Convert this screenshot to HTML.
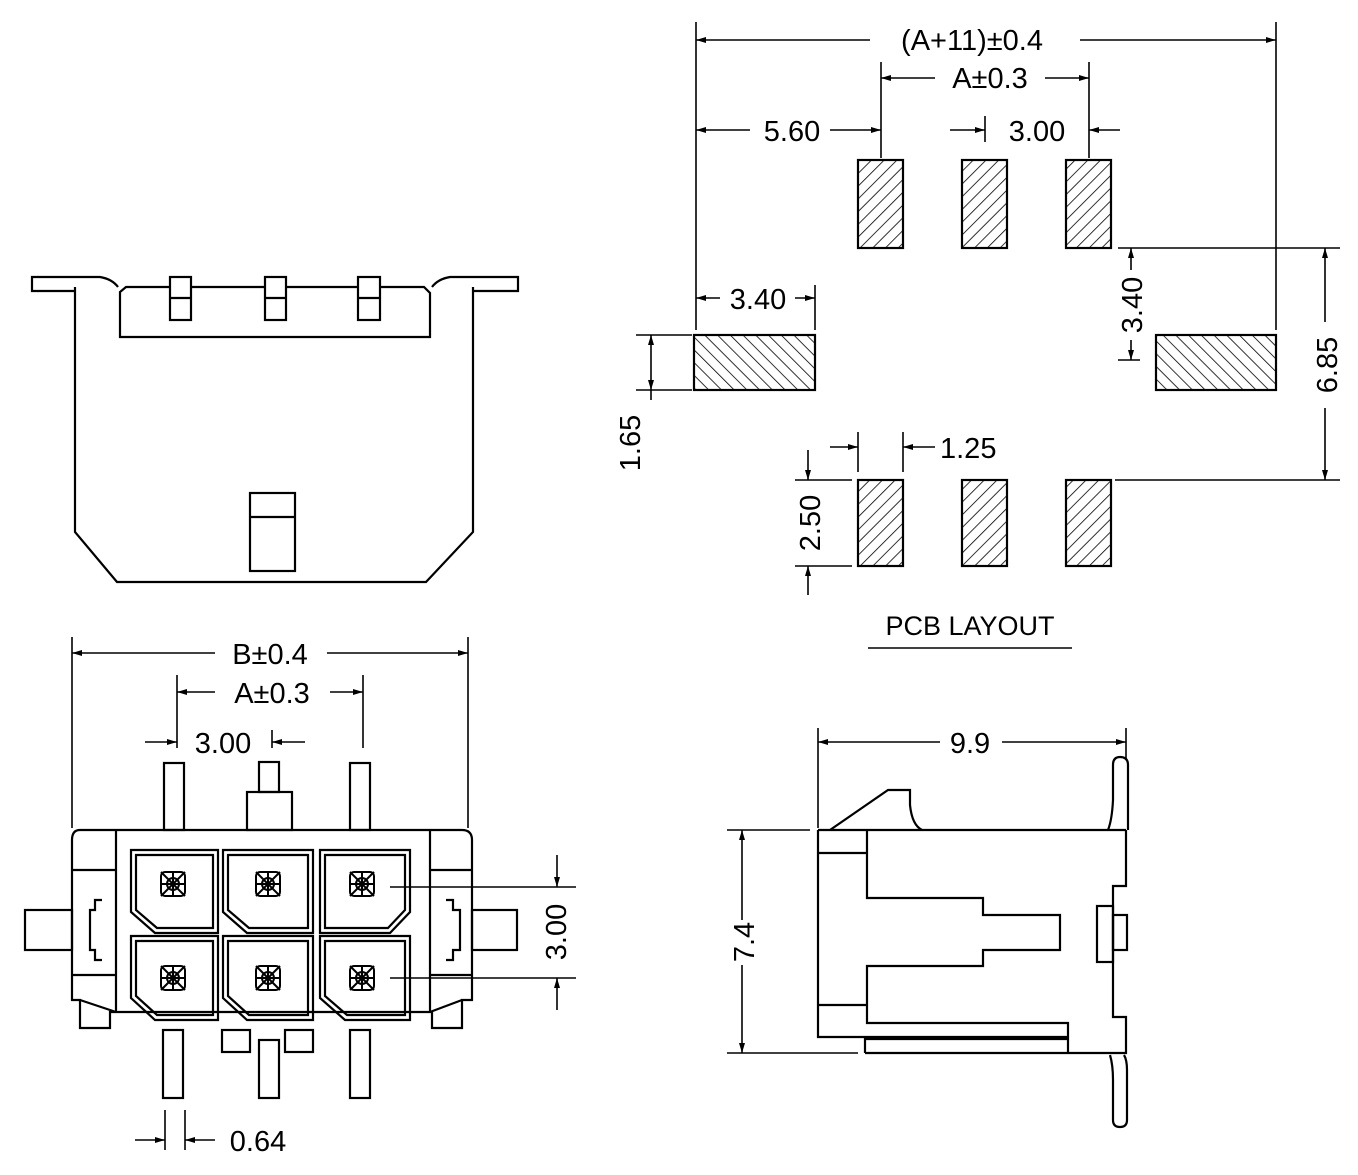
<!DOCTYPE html>
<html><head><meta charset="utf-8"><style>
html,body{margin:0;padding:0;background:#fff;}
svg{display:block;}
text{font-family:"Liberation Sans",sans-serif;fill:#000;}
</style></head><body>
<svg width="1358" height="1175" viewBox="0 0 1358 1175" xmlns="http://www.w3.org/2000/svg">
<defs>
<pattern id="h1" width="9" height="9" patternUnits="userSpaceOnUse" patternTransform="rotate(45)">
<line x1="0" y1="0" x2="0" y2="9" stroke="#000" stroke-width="1.6"/></pattern>
<pattern id="h2" width="9" height="9" patternUnits="userSpaceOnUse" patternTransform="rotate(-45)">
<line x1="0" y1="0" x2="0" y2="9" stroke="#000" stroke-width="1.6"/></pattern>
<marker id="ar" viewBox="0 0 10 6" refX="10" refY="3" markerWidth="10" markerHeight="6" orient="auto-start-reverse" markerUnits="userSpaceOnUse">
<path d="M0,0 L10,3 L0,6 z" fill="#000"/></marker>
<g id="star"><g stroke="#000" stroke-width="2" fill="none">
<rect x="-12" y="-12" width="24" height="24" rx="4"/>
<line x1="-12" y1="-12" x2="12" y2="12"/><line x1="12" y1="-12" x2="-12" y2="12"/>
<line x1="0" y1="-12" x2="0" y2="12"/><line x1="-12" y1="0" x2="12" y2="0"/>
<circle r="6"/></g></g>
</defs>
<g fill="none" stroke="#000" stroke-width="2.2">
<!-- top-left view -->
<path d="M75,291 L32,291 L32,277 L100,277 Q112,279 118,287"/>
<path d="M473,291 L518,291 L518,277 L450,277 Q438,279 432,287"/>
<path d="M75,287 L75,532 L117,582 L426,582 L473,532 L473,287"/>
<path d="M120,337 L120,292 L126,287 L424,287 L430,293 L430,337 Z"/>
<g fill="#fff">
<rect x="170" y="277" width="21" height="43"/>
<rect x="265" y="277" width="21" height="43"/>
<rect x="358" y="277" width="22" height="43"/>
</g>
<line x1="170" y1="298" x2="191" y2="298"/>
<line x1="265" y1="298" x2="286" y2="298"/>
<line x1="358" y1="298" x2="380" y2="298"/>
<rect x="250" y="493" width="45" height="78"/><line x1="250" y1="517" x2="295" y2="517"/>
</g>
<!-- PCB layout pads -->
<g stroke="#000" stroke-width="2.2">
<rect x="858" y="160" width="45" height="88" fill="url(#h1)"/>
<rect x="962" y="160" width="45" height="88" fill="url(#h1)"/>
<rect x="1066" y="160" width="45" height="88" fill="url(#h1)"/>
<rect x="858" y="480" width="45" height="86" fill="url(#h1)"/>
<rect x="962" y="480" width="45" height="86" fill="url(#h1)"/>
<rect x="1066" y="480" width="45" height="86" fill="url(#h1)"/>
<rect x="694" y="335" width="121" height="55" fill="url(#h2)"/>
<rect x="1156" y="335" width="120" height="55" fill="url(#h2)"/>
</g>
<g stroke="#000" stroke-width="1.6" fill="none">
<line x1="696" y1="22" x2="696" y2="330"/><line x1="1276" y1="22" x2="1276" y2="330"/>
<line x1="881" y1="62" x2="881" y2="158"/><line x1="1089" y1="62" x2="1089" y2="158"/>
<line x1="985" y1="116" x2="985" y2="142"/>
<line x1="815" y1="285" x2="815" y2="330"/>
<line x1="636" y1="335" x2="692" y2="335"/><line x1="636" y1="390" x2="692" y2="390"/>
<line x1="1118" y1="248" x2="1340" y2="248"/><line x1="1115" y1="480" x2="1340" y2="480"/>
<line x1="1118" y1="360" x2="1140" y2="360"/>
<line x1="858" y1="432" x2="858" y2="472"/><line x1="903" y1="432" x2="903" y2="472"/>
<line x1="795" y1="480" x2="852" y2="480"/><line x1="795" y1="566" x2="852" y2="566"/>
<line x1="868" y1="648" x2="1072" y2="648"/>
<line x1="696" y1="40" x2="870" y2="40" marker-start="url(#ar)"/>
<line x1="1080" y1="40" x2="1276" y2="40" marker-end="url(#ar)"/>
<line x1="881" y1="78" x2="935" y2="78" marker-start="url(#ar)"/>
<line x1="1045" y1="78" x2="1089" y2="78" marker-end="url(#ar)"/>
<line x1="696" y1="130" x2="750" y2="130" marker-start="url(#ar)"/>
<line x1="830" y1="130" x2="881" y2="130" marker-end="url(#ar)"/>
<line x1="950" y1="130" x2="985" y2="130" marker-end="url(#ar)"/>
<line x1="1120" y1="130" x2="1089" y2="130" marker-end="url(#ar)"/>
<line x1="696" y1="298" x2="720" y2="298" marker-start="url(#ar)"/>
<line x1="795" y1="298" x2="815" y2="298" marker-end="url(#ar)"/>
<line x1="651" y1="335" x2="651" y2="390" marker-start="url(#ar)" marker-end="url(#ar)"/>
<line x1="651" y1="390" x2="651" y2="400"/>
<line x1="1131" y1="248" x2="1131" y2="270" marker-start="url(#ar)"/>
<line x1="1131" y1="340" x2="1131" y2="360" marker-end="url(#ar)"/>
<line x1="1325" y1="248" x2="1325" y2="322" marker-start="url(#ar)"/>
<line x1="1325" y1="408" x2="1325" y2="480" marker-end="url(#ar)"/>
<line x1="830" y1="447" x2="858" y2="447" marker-end="url(#ar)"/>
<line x1="935" y1="447" x2="903" y2="447" marker-end="url(#ar)"/>
<line x1="808" y1="450" x2="808" y2="480" marker-end="url(#ar)"/>
<line x1="808" y1="595" x2="808" y2="566" marker-end="url(#ar)"/>
</g>
<g font-size="29">
<text x="972" y="50" text-anchor="middle">(A+11)±0.4</text>
<text x="990" y="88" text-anchor="middle">A±0.3</text>
<text x="792" y="141" text-anchor="middle">5.60</text>
<text x="1037" y="141" text-anchor="middle">3.00</text>
<text x="758" y="309" text-anchor="middle">3.40</text>
<text x="940" y="458" text-anchor="start">1.25</text>
<text transform="translate(640,443) rotate(-90)" text-anchor="middle">1.65</text>
<text transform="translate(1142,305) rotate(-90)" text-anchor="middle">3.40</text>
<text transform="translate(1337,365) rotate(-90)" text-anchor="middle">6.85</text>
<text transform="translate(820,523) rotate(-90)" text-anchor="middle">2.50</text>
<text x="970" y="635" text-anchor="middle" font-size="27">PCB LAYOUT</text>
</g>
<!-- bottom-left front view -->
<g fill="none" stroke="#000" stroke-width="2.2">
<rect x="164" y="763" width="20" height="67"/>
<rect x="350" y="763" width="20" height="67"/>
<rect x="259" y="762" width="20" height="30"/>
<rect x="247" y="792" width="45" height="38"/>
<path d="M80,830 L462,830 Q472,830 472,840 L472,1000 L462,1000 L462,1028 L432,1028 L432,1012 L110,1012 L110,1028 L80,1028 L80,1000 L72,1000 L72,840 Q72,830 80,830 Z"/>
<line x1="116" y1="830" x2="116" y2="1012"/><line x1="430" y1="830" x2="430" y2="1012"/>
<line x1="72" y1="870" x2="116" y2="870"/><line x1="72" y1="975" x2="116" y2="975"/>
<line x1="430" y1="870" x2="472" y2="870"/><line x1="430" y1="975" x2="472" y2="975"/>
<line x1="80" y1="1000" x2="116" y2="1012"/><line x1="462" y1="1000" x2="430" y2="1012"/>
<path d="M102,900 L95,900 L95,910 L90,910 L90,950 L95,950 L95,960 L102,960"/>
<path d="M446,900 L453,900 L453,910 L460,910 L460,950 L453,950 L453,960 L446,960"/>
<rect x="25" y="910" width="47" height="40"/>
<rect x="472" y="910" width="45" height="40"/>
<path d="M131,850 L218,850 L218,933 L155,933 L131,912 Z"/>
<path d="M136,855 L213,855 L213,928 L157,928 L136,910 Z"/>
<path d="M223,850 L313,850 L313,933 L247,933 L223,912 Z"/>
<path d="M228,855 L308,855 L308,928 L249,928 L228,910 Z"/>
<path d="M320,850 L410,850 L410,912 L390,933 L320,933 Z"/>
<path d="M325,855 L405,855 L405,910 L388,928 L325,928 Z"/>
<path d="M131,936 L218,936 L218,1020 L155,1020 L131,998 Z"/>
<path d="M136,941 L213,941 L213,1015 L157,1015 L136,996 Z"/>
<path d="M223,936 L313,936 L313,1020 L247,1020 L223,998 Z"/>
<path d="M228,941 L308,941 L308,1015 L249,1015 L228,996 Z"/>
<path d="M320,936 L410,936 L410,1020 L345,1020 L320,998 Z"/>
<path d="M325,941 L405,941 L405,1015 L347,1015 L325,996 Z"/>
<rect x="222" y="1030" width="28" height="22"/>
<rect x="285" y="1030" width="28" height="22"/>
<rect x="163" y="1030" width="20" height="68"/>
<rect x="259" y="1040" width="20" height="58"/>
<rect x="350" y="1030" width="20" height="68"/>
</g>
<use href="#star" x="173" y="884"/><use href="#star" x="268" y="884"/><use href="#star" x="362" y="884"/>
<use href="#star" x="173" y="978"/><use href="#star" x="268" y="978"/><use href="#star" x="362" y="978"/>
<g stroke="#000" stroke-width="1.6" fill="none">
<line x1="72" y1="637" x2="72" y2="828"/><line x1="468" y1="637" x2="468" y2="828"/>
<line x1="177" y1="675" x2="177" y2="748"/><line x1="363" y1="675" x2="363" y2="748"/>
<line x1="272" y1="730" x2="272" y2="748"/>
<line x1="72" y1="653" x2="215" y2="653" marker-start="url(#ar)"/>
<line x1="327" y1="653" x2="468" y2="653" marker-end="url(#ar)"/>
<line x1="177" y1="692" x2="215" y2="692" marker-start="url(#ar)"/>
<line x1="330" y1="692" x2="363" y2="692" marker-end="url(#ar)"/>
<line x1="145" y1="742" x2="177" y2="742" marker-end="url(#ar)"/>
<line x1="305" y1="742" x2="272" y2="742" marker-end="url(#ar)"/>
<line x1="390" y1="887" x2="576" y2="887"/><line x1="390" y1="978" x2="576" y2="978"/>
<line x1="557" y1="855" x2="557" y2="887" marker-end="url(#ar)"/>
<line x1="557" y1="1010" x2="557" y2="978" marker-end="url(#ar)"/>
<line x1="165" y1="1110" x2="165" y2="1150"/><line x1="185" y1="1110" x2="185" y2="1150"/>
<line x1="135" y1="1140" x2="165" y2="1140" marker-end="url(#ar)"/>
<line x1="215" y1="1140" x2="185" y2="1140" marker-end="url(#ar)"/>
</g>
<g font-size="29">
<text x="270" y="664" text-anchor="middle">B±0.4</text>
<text x="272" y="703" text-anchor="middle">A±0.3</text>
<text x="223" y="753" text-anchor="middle">3.00</text>
<text x="258" y="1151" text-anchor="middle">0.64</text>
<text transform="translate(566,932) rotate(-90)" text-anchor="middle">3.00</text>
<text x="970" y="753" text-anchor="middle">9.9</text>
<text transform="translate(754,942) rotate(-90)" text-anchor="middle">7.4</text>
</g>
<!-- side view -->
<g fill="none" stroke="#000" stroke-width="2.2">
<path d="M818,830 L818,1037 L1068,1037"/>
<line x1="818" y1="830" x2="1126" y2="830"/>
<path d="M830,830 L888,790 L910,790 L910,805 Q912,825 922,830"/>
<path d="M867,830 L867,898 L983,898 L983,915 L1060,915 L1060,950 L983,950 L983,966 L867,966 L867,1023 L1068,1023 L1068,1053"/>
<line x1="818" y1="853" x2="867" y2="853"/><line x1="818" y1="1005" x2="867" y2="1005"/>
<path d="M865,1053 L865,1039 L1068,1039"/>
<line x1="865" y1="1053" x2="1110" y2="1053"/>
<path d="M1126,830 L1126,886 L1113,886 L1113,1017 L1126,1017 L1126,1053 L1110,1053"/>
<rect x="1097" y="906" width="16" height="56"/>
<rect x="1113" y="915" width="14" height="35"/>
<path d="M1108,830 Q1112,820 1113,800 L1113,765 Q1113,757 1120,757 Q1128,757 1128,765 L1128,830"/>
<path d="M1110,1055 Q1113,1065 1113,1080 L1113,1120 Q1113,1127 1120,1127 Q1127,1127 1127,1120 L1127,1070 Q1127,1060 1124,1055"/>
</g>
<g stroke="#000" stroke-width="1.6" fill="none">
<line x1="818" y1="728" x2="818" y2="828"/><line x1="1126" y1="728" x2="1126" y2="760"/>
<line x1="818" y1="742" x2="940" y2="742" marker-start="url(#ar)"/>
<line x1="1002" y1="742" x2="1126" y2="742" marker-end="url(#ar)"/>
<line x1="727" y1="830" x2="810" y2="830"/><line x1="727" y1="1053" x2="858" y2="1053"/>
<line x1="742" y1="830" x2="742" y2="920" marker-start="url(#ar)"/>
<line x1="742" y1="965" x2="742" y2="1053" marker-end="url(#ar)"/>
</g>
</svg>
</body></html>
